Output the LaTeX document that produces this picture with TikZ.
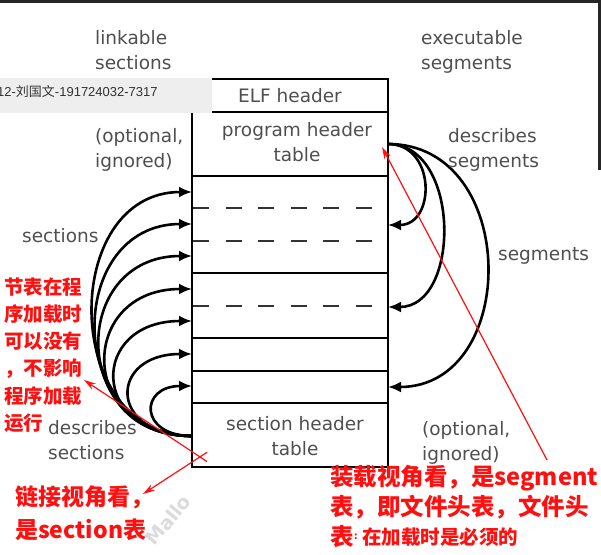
\documentclass[tikz,border=0pt]{standalone}
\usepackage{fontspec}
\setmainfont{DejaVu Sans}
\newfontfamily\cjk{Noto Sans CJK SC}
\newfontfamily\tagfont{Liberation Sans}
\usetikzlibrary{arrows.meta}
\definecolor{labelgray}{HTML}{4F4F4F}
\definecolor{notered}{HTML}{FF1010}
\definecolor{tagbg}{HTML}{EEEEEE}

\begin{document}
\begin{tikzpicture}[x=1pt, y=-1pt,
  lbl/.style={font=\fontsize{18.5}{25}\selectfont, text=labelgray, inner sep=0pt},
  note/.style 2 args={font=\cjk\bfseries\fontsize{#1}{#2}\selectfont, text=notered,
    inner sep=0pt, align=left, anchor=west},
  link/.style={-{Latex[length=13pt, width=11pt]}, line width=2.6pt, black},
  remark/.style={-{Stealth[length=12pt, width=7pt]}, notered, line width=1.2pt}]

\useasboundingbox (0,0) rectangle (601,554);
\fill[white] (0,0) rectangle (601,554);
\fill[black!85] (0,0) rectangle (601,3);
\fill[black!85] (598,0) rectangle (601,170);

% ---- faint watermark ---------------------------------------------------
\node[rotate=50, text=black!14, font=\bfseries\fontsize{19}{19}\selectfont] (mark) at (168,520) {Mallo};

% ---- file layout -------------------------------------------------------
\draw[line width=2.6pt] (192,79) rectangle (388,467);
\foreach \y in {112,176,273,338,371,403}
  \draw[line width=2.6pt] (192,\y) -- (388,\y);
\foreach \y in {208,241,306}
  \draw[line width=2.6pt, black!80, dash pattern=on 16pt off 16.5pt] (193,\y) -- (372,\y);

\node[lbl] (elf) at (290,96) {ELF header};
\node[lbl, align=center] (pht) at (297,142.5) {program header\\table};
\node[lbl, align=center] (sht) at (295,436.5) {section header\\table};

% ---- section arrows (left) ---------------------------------------------
\coordinate (shtL) at (192,436);
\foreach \i/\y in {1/192,2/224,3/256,4/289,5/321,6/354,7/386}
  \coordinate (secIn\i) at (192,\y);
\foreach \i/\c in {1/132,2/128,3/123,4/115,5/103,6/84,7/53}
  \draw[link] (shtL) .. controls +(-\c,0) and +(-\c,0) .. (secIn\i);

% ---- segment arrows (right) --------------------------------------------
\coordinate (phtR) at (388,144);
\foreach \i/\y in {1/225,2/307,3/387}
  \coordinate (segIn\i) at (388,\y);
\foreach \i/\c in {1/48,2/73,3/132}
  \draw[link] (phtR) .. controls +(\c,0) and +(\c,0) .. (segIn\i);

% ---- side labels -------------------------------------------------------
\node[lbl, align=left, anchor=west] (linkable) at (95,50.5) {linkable\\sections};
\node[lbl, align=left, anchor=west] (optL) at (95,149.7) {(optional,\\ignored)};
\node[lbl, anchor=west] (secs) at (22,236) {sections};
\node[lbl, align=left, anchor=west] (descSec) at (48,440.5) {describes\\sections};
\node[lbl, align=left, anchor=west] (exec) at (421,52) {executable\\segments};
\node[lbl, align=left, anchor=west] (descSeg) at (448,149.7) {describes\\segments};
\node[lbl, anchor=west] (segs) at (498,255.5) {segments};
\node[lbl, align=left, anchor=west] (optR) at (422,442.7) {(optional,\\ignored)};

% ---- screen tag --------------------------------------------------------
\fill[tagbg] (0,78) rectangle (212,113);
\node[anchor=base west, inner sep=0pt, text=black!80,
  font=\tagfont\fontsize{13}{13}\selectfont] (tag) at (-3,96)
  {12-{\cjk 刘国文}-191724032-7317};

% ---- red notes ---------------------------------------------------------
\node[note={19.5}{27.3}] (noteL) at (4,355)
  {节表在程\\序加载时\\可以没有\\，不影响\\程序加载\\运行};
\node[note={23}{33}] (noteLink) at (15,513.5)
  {链接视角看，\\是section表};
\node[note={23.5}{30}] (noteLoad) at (330,492)
  {装载视角看，是segment\\表，即文件头表，文件头};
\node[note={23.5}{30}] (noteLoadB) at (330,537) {表};
\node[note={10}{10}] (noteColon) at (354,537) {:};
\node[note={19.5}{24}] (noteLoadC) at (362,537) {在加载时是必须的};

% ---- red pointers ------------------------------------------------------
\coordinate (crossA) at (207,461.6);
\coordinate (crossB) at (207,452.3);
\coordinate (tipL) at (84,380);
\coordinate (tipLink) at (143,494);
\draw[remark] (crossA) -- (tipL);
\draw[remark] (crossB) -- (tipLink);
\coordinate (loadTail) at (547,460);
\coordinate (phtMark) at (382,147);
\draw[remark] (loadTail) -- (phtMark);
\end{tikzpicture}
\end{document}
